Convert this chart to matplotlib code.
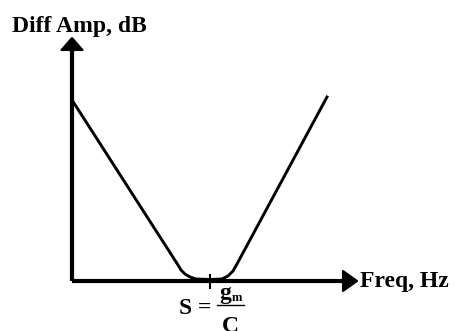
import matplotlib.pyplot as plt
from matplotlib.patches import Polygon

# ==== Response curve (freq offset, amplitude), origin at the axis corner ====
freq = [0, 106, 109, 113, 118, 124, 138, 150, 156, 161, 165, 255]
amp = [181, 16, 11, 7, 4, 2, 1.5, 2, 5, 10, 17, 184]

center_freq = 138  # where S = gm / C sits on the frequency axis
x_axis_end = 285
y_axis_end = 243

# ==== Figure setup ====
plt.rcParams['font.family'] = ['Liberation Serif', 'DejaVu Serif']
fig = plt.figure(figsize=(4.57, 3.31), dpi=100)
ax = fig.add_axes([0, 0, 1, 1])
ax.set_xlim(-72, 385)
ax.set_ylim(-50, 281)
ax.axis('off')

# ==== Axes with arrow heads ====
ax.plot([0, x_axis_end - 12], [0, 0], color='black', lw=3, solid_capstyle='butt')
ax.plot([0, 0], [0, y_axis_end - 10], color='black', lw=3, solid_capstyle='butt')
ax.add_patch(Polygon([[x_axis_end, 0], [x_axis_end - 14, 10], [x_axis_end - 14, -10]],
                     closed=True, color='black', joinstyle='round', lw=1.5))
ax.add_patch(Polygon([[0, y_axis_end], [-10.5, y_axis_end - 12], [10.5, y_axis_end - 12]],
                     closed=True, color='black', joinstyle='round', lw=1.5))

# tick at the centre frequency
ax.plot([center_freq, center_freq], [-7, 6], color='black', lw=1.5)

# ==== Curve ====
ax.plot(freq, amp, color='black', lw=2.1, solid_joinstyle='round')

# ==== Labels ====
bold = dict(fontweight='bold', color='black')
ax.text(-60, 249, 'Diff Amp, dB', fontsize=17, ha='left', va='baseline', **bold)
ax.text(288, -6, 'Freq, Hz', fontsize=17, ha='left', va='baseline', **bold)

ax.text(107, -33, 'S =', fontsize=17, ha='left', va='baseline', **bold)
ax.plot([145, 172], [-24, -24], color='black', lw=1.0)
ax.text(147, -18, 'g', fontsize=17, ha='left', va='baseline', **bold)
ax.text(160, -20, 'm', fontsize=9, ha='left', va='baseline', **bold)
ax.text(158.5, -51, 'C', fontsize=17, ha='center', va='baseline', **bold)

fig.savefig('out.png', dpi=100)
